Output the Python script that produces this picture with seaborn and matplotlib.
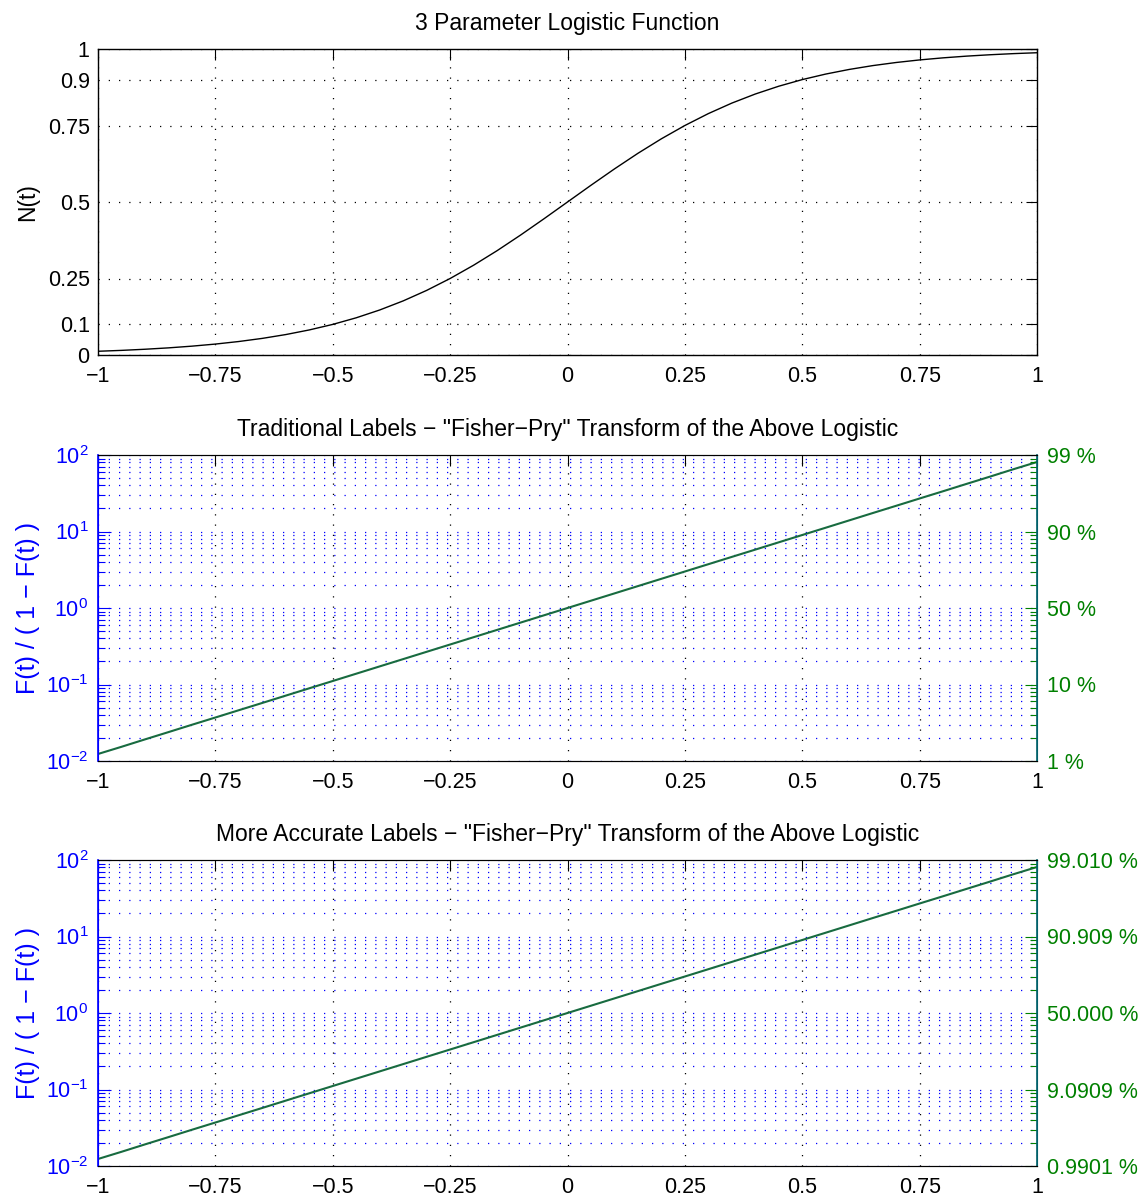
import numpy as np
import matplotlib
matplotlib.use("Agg")
import matplotlib.pyplot as plt
import seaborn as sns
from matplotlib.ticker import FixedLocator, FixedFormatter, LogLocator, NullFormatter

# logistic curve values
t_vals = [-1.00, -0.95, -0.90, -0.85, -0.80, -0.75, -0.70, -0.65, -0.60, -0.55,
          -0.50, -0.45, -0.40, -0.35, -0.30, -0.25, -0.20, -0.15, -0.10, -0.05,
          0.00, 0.05, 0.10, 0.15, 0.20, 0.25, 0.30, 0.35, 0.40, 0.45,
          0.50, 0.55, 0.60, 0.65, 0.70, 0.75, 0.80, 0.85, 0.90, 0.95, 1.00]
n_vals = [0.0122, 0.0151, 0.0188, 0.0233, 0.0289, 0.0357, 0.0441, 0.0543, 0.0668, 0.0819,
          0.1000, 0.1216, 0.1471, 0.1768, 0.2111, 0.2500, 0.2934, 0.3409, 0.3919, 0.4453,
          0.5000, 0.5547, 0.6081, 0.6591, 0.7066, 0.7500, 0.7889, 0.8232, 0.8529, 0.8784,
          0.9000, 0.9181, 0.9332, 0.9457, 0.9559, 0.9643, 0.9711, 0.9767, 0.9812, 0.9849, 0.9878]

x_ticks = [-1, -0.75, -0.5, -0.25, 0, 0.25, 0.5, 0.75, 1]
x_labels = ["\u22121", "\u22120.75", "\u22120.5", "\u22120.25", "0", "0.25", "0.5", "0.75", "1"]
n_ticks = [0, 0.1, 0.25, 0.5, 0.75, 0.9, 1]
n_labels = ["0", "0.1", "0.25", "0.5", "0.75", "0.9", "1"]
log_ticks = [1e-2, 1e-1, 1e0, 1e1, 1e2]
log_labels = [r"$\mathregular{10^{-2}}$", r"$\mathregular{10^{-1}}$", r"$\mathregular{10^{0}}$",
              r"$\mathregular{10^{1}}$", r"$\mathregular{10^{2}}$"]
pct_traditional = ["1 %", "10 %", "50 %", "90 %", "99 %"]
pct_accurate = ["0.9901 %", "9.0909 %", "50.000 %", "90.909 %", "99.010 %"]

titles = ["3 Parameter Logistic Function",
          "Traditional Labels \u2212 \"Fisher\u2212Pry\" Transform of the Above Logistic",
          "More Accurate Labels \u2212 \"Fisher\u2212Pry\" Transform of the Above Logistic"]

sns.set_style("white")
plt.rcParams['font.family'] = ['Liberation Sans', 'DejaVu Sans']
plt.rcParams['mathtext.fontset'] = 'custom'
plt.rcParams['mathtext.rm'] = 'Liberation Sans'
plt.rcParams['font.size'] = 15.5
plt.rcParams['text.color'] = 'k'
plt.rcParams['axes.labelcolor'] = 'k'
plt.rcParams['xtick.color'] = 'k'
plt.rcParams['ytick.color'] = 'k'

BLUE = '#0000ff'
GREEN = '#008000'
TEAL = '#00606a'
LINE = '#186b40'
TITLE_SIZE = 16.5
TICK_SIZE = 15.5

t = np.array(t_vals)
n = np.array(n_vals)
ratio = n / (1 - n)

fig = plt.figure(figsize=(11.47, 11.97), dpi=100)
L, W, H = 98 / 1147, 939 / 1147, 306 / 1197
ax1 = fig.add_axes([L, (1197 - 355) / 1197, W, H])
ax2 = fig.add_axes([L, (1197 - 761) / 1197, W, H])
ax3 = fig.add_axes([L, (1197 - 1166) / 1197, W, H])

dots = (0, (1, 7.2))

# top panel
sns.lineplot(x=t, y=n, ax=ax1, color='k', linewidth=1.0, estimator=None)
ax1.set_xlim(-1, 1)
ax1.set_ylim(0, 1)
ax1.set_xticks(x_ticks)
ax1.set_xticklabels(x_labels)
ax1.set_yticks(n_ticks)
ax1.set_yticklabels(n_labels)
ax1.grid(True, color='k', linestyle=dots, linewidth=0.9)
ax1.tick_params(direction='in', length=8, width=0.8, top=True, right=True,
                labelsize=TICK_SIZE, colors='k')
ax1.tick_params(axis='x', pad=8)
ax1.tick_params(axis='y', pad=6)
ax1.set_ylabel("N(t)", labelpad=6, fontsize=16.5)
ax1.set_title(titles[0], pad=14, fontsize=TITLE_SIZE, color='k')
for s in ax1.spines.values():
    s.set_color('k')
    s.set_linewidth(1.0)

for ax, pct, title in [(ax2, pct_traditional, titles[1]), (ax3, pct_accurate, titles[2])]:
    ax.set_yscale('log')
    sns.lineplot(x=t, y=ratio, ax=ax, color=LINE, linewidth=1.5, estimator=None)
    ax.set_xlim(-1, 1)
    ax.set_ylim(1e-2, 1e2)
    ax.set_xticks(x_ticks)
    ax.set_xticklabels(x_labels)
    ax.yaxis.set_major_locator(FixedLocator(log_ticks))
    ax.yaxis.set_major_formatter(FixedFormatter(log_labels))
    ax.yaxis.set_minor_locator(LogLocator(base=10, subs=np.arange(2, 10)))
    ax.yaxis.set_minor_formatter(NullFormatter())
    ax.xaxis.grid(True, which='major', color='k', linestyle=dots, linewidth=0.9)
    ax.yaxis.grid(True, which='both', color=BLUE, linestyle=dots, linewidth=0.9)
    ax.tick_params(axis='x', direction='in', length=8, width=0.8, top=True, pad=8,
                   labelsize=TICK_SIZE, colors='k')
    ax.tick_params(axis='y', which='major', direction='in', length=9, width=0.8,
                   colors=BLUE, left=True, right=False, pad=7, labelsize=TICK_SIZE)
    ax.tick_params(axis='y', which='minor', direction='in', length=5, width=0.8,
                   colors=BLUE, left=True, right=False)
    ax.set_ylabel("F(t) / ( 1 \u2212 F(t) )", color=BLUE, labelpad=4, fontsize=18)
    ax.set_title(title, pad=14, fontsize=TITLE_SIZE, color='k')
    ax.spines['left'].set_color(BLUE)
    ax.spines['right'].set_color(TEAL)

    axr = ax.twinx()
    axr.set_yscale('log')
    axr.set_ylim(1e-2, 1e2)
    axr.yaxis.set_major_locator(FixedLocator(log_ticks))
    axr.yaxis.set_major_formatter(FixedFormatter(pct))
    axr.yaxis.set_minor_locator(LogLocator(base=10, subs=np.arange(2, 10)))
    axr.yaxis.set_minor_formatter(NullFormatter())
    axr.tick_params(axis='y', which='major', direction='in', length=9, width=0.8,
                    colors=GREEN, pad=7, labelsize=TICK_SIZE)
    axr.tick_params(axis='y', which='minor', direction='in', length=5, width=0.8,
                    colors=GREEN)
    axr.spines['right'].set_color(TEAL)
    axr.spines['right'].set_linewidth(1.2)
    axr.spines['left'].set_color(BLUE)
    axr.spines['left'].set_linewidth(1.2)
    for s in ['top', 'bottom']:
        axr.spines[s].set_color('k')

fig.savefig("out.png", dpi=100)
